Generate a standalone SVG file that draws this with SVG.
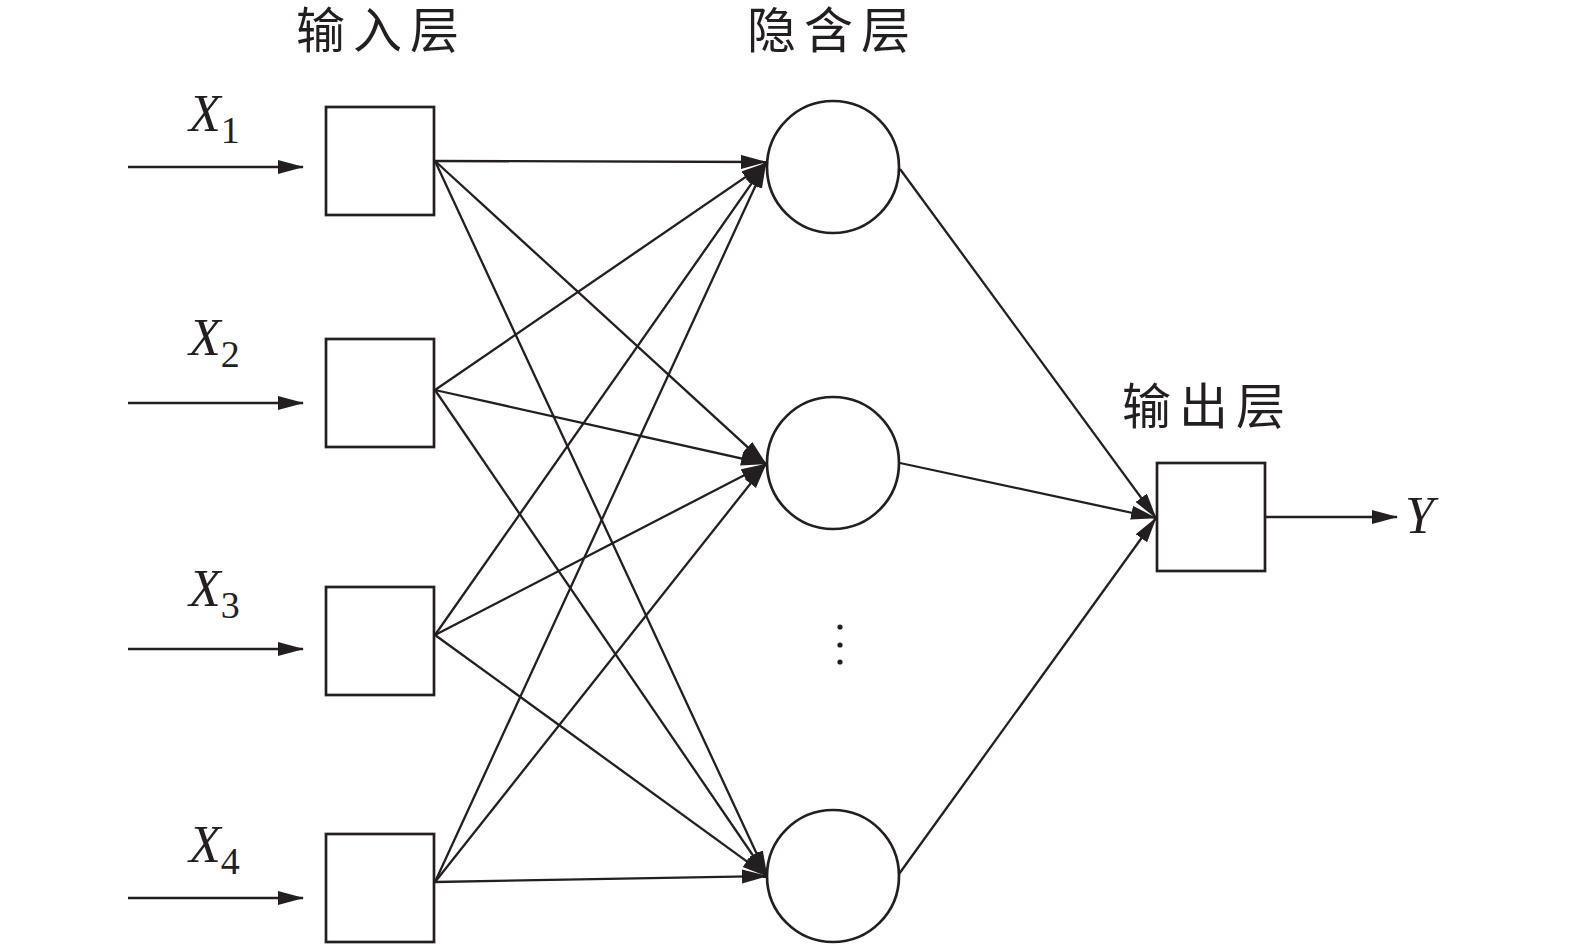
<svg xmlns="http://www.w3.org/2000/svg" width="1575" height="947" viewBox="0 0 1575 947">
<style>
.node{fill:#fff;stroke:#231f20;stroke-width:2.7}
.edge{stroke:#231f20;stroke-width:2.3;fill:none;marker-end:url(#ah)}
.cn{font-family:"Noto Sans CJK SC","Noto Sans CJK TC",sans-serif;font-size:49px;fill:#231f20;letter-spacing:8px}
.var{font-family:"Liberation Serif",serif;font-style:italic;font-size:52px;fill:#231f20}
.sub{font-family:"Liberation Serif",serif;font-size:38px;fill:#231f20}
</style>
<defs>
<marker id="ah" markerUnits="userSpaceOnUse" markerWidth="28" markerHeight="16" refX="25" refY="7" orient="auto">
<path d="M0,0 L26,7 L0,14 z" fill="#231f20"/>
</marker>
</defs>
<rect width="1575" height="947" fill="#fff"/>
<g id="labels">
<text class="cn" x="296" y="48">输入层</text>
<text class="cn" x="747" y="48">隐含层</text>
<text class="cn" x="1122" y="424">输出层</text>
</g>
<g id="in1"><rect class="node" x="326" y="107" width="108" height="108"/></g>
<g id="in2"><rect class="node" x="326" y="339" width="108" height="108"/></g>
<g id="in3"><rect class="node" x="326" y="587" width="108" height="108"/></g>
<g id="in4"><rect class="node" x="326" y="834" width="108" height="108"/></g>
<g id="h1"><circle class="node" cx="833" cy="167" r="66"/></g>
<g id="h2"><circle class="node" cx="833" cy="463" r="66"/></g>
<g id="h3"><circle class="node" cx="833" cy="876" r="66"/></g>
<g id="dots" fill="#231f20">
<circle cx="840" cy="627" r="2.6"/>
<circle cx="840" cy="645" r="2.6"/>
<circle cx="840" cy="662" r="2.6"/>
</g>
<g id="out"><rect class="node" x="1157" y="463" width="108" height="108"/></g>
<g id="vars">
<text class="var" x="189" y="131">X<tspan class="sub" font-style="normal" dx="0" dy="12">1</tspan></text>
<text class="var" x="189" y="355">X<tspan class="sub" font-style="normal" dx="0" dy="12">2</tspan></text>
<text class="var" x="189" y="606">X<tspan class="sub" font-style="normal" dx="0" dy="12">3</tspan></text>
<text class="var" x="189" y="862">X<tspan class="sub" font-style="normal" dx="0" dy="12">4</tspan></text>
<text class="var" x="1405" y="533">Y</text>
</g>
<g id="connectors">
<line class="edge" x1="128" y1="167" x2="303" y2="167"/>
<line class="edge" x1="128" y1="403" x2="303" y2="403"/>
<line class="edge" x1="128" y1="649" x2="303" y2="649"/>
<line class="edge" x1="128" y1="898" x2="303" y2="898"/>
<line class="edge" x1="435" y1="161" x2="766" y2="162"/>
<line class="edge" x1="435" y1="161" x2="766" y2="464"/>
<line class="edge" x1="435" y1="161" x2="767" y2="876"/>
<line class="edge" x1="435" y1="390" x2="766" y2="163"/>
<line class="edge" x1="435" y1="390" x2="766" y2="464"/>
<line class="edge" x1="435" y1="390" x2="767" y2="876"/>
<line class="edge" x1="435" y1="635" x2="766" y2="163"/>
<line class="edge" x1="435" y1="635" x2="766" y2="464"/>
<line class="edge" x1="435" y1="635" x2="767" y2="876"/>
<line class="edge" x1="435" y1="882" x2="766" y2="163"/>
<line class="edge" x1="435" y1="882" x2="766" y2="464"/>
<line class="edge" x1="435" y1="882" x2="767" y2="876"/>
<line class="edge" x1="900" y1="169" x2="1156" y2="518"/>
<line class="edge" x1="900" y1="463" x2="1156" y2="518"/>
<line class="edge" x1="899" y1="874" x2="1156" y2="518"/>
<line class="edge" x1="1266" y1="517" x2="1397" y2="517"/>
</g>
</svg>
